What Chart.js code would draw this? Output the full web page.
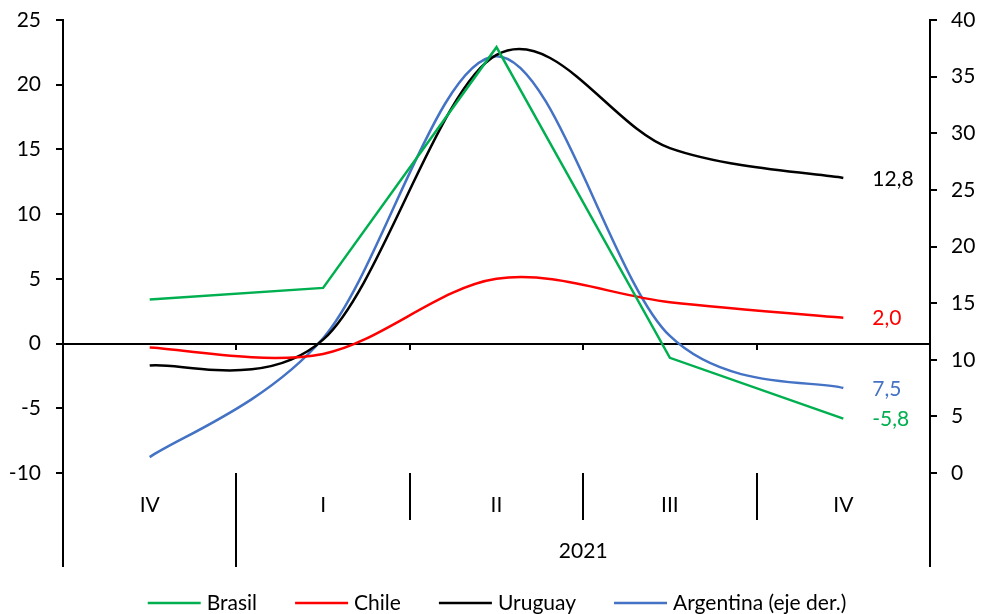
<!DOCTYPE html>
<html lang="es">
<head>
<meta charset="utf-8">
<title>Crecimiento trimestral</title>
<script src="https://cdn.jsdelivr.net/npm/chart.js@4.4.1/dist/chart.umd.min.js"></script>
<style>
  html, body { margin: 0; padding: 0; background: #fff; }
  #wrap { width: 981px; height: 614px; }
</style>
</head>
<body>
<div id="wrap"><canvas id="grafico" width="981" height="614"></canvas></div>
<script>
// Trimestres: IV de 2020 y luego los de 2021
const trimestres = ['IV', 'I', 'II', 'III', 'IV'];
const anio = '2021';

// Series del eje izquierdo
const brasil = [3.4, 4.3, 22.9, -1.1, -5.8];
const chile = [-0.3, -0.8, 5.0, 3.2, 2.0];
const uruguay = [-1.7, 0.3, 22.3, 15.1, 12.8];
// Argentina va en el eje derecho
const argentina = [1.4, 11.9, 36.8, 12.1, 7.5];

// Rango de los ejes
const ejeIzq = { min: -10, max: 25, paso: 5 };
const ejeDer = { min: 0, max: 40, paso: 5 };

const fuente = 'Lato, "Open Sans", sans-serif';
const tamFuente = 21;
const negro = '#000000';

const series = [
    { nombre: 'Brasil', datos: brasil, color: '#00B050', eje: 'y', suave: false },
    { nombre: 'Chile', datos: chile, color: '#FF0000', eje: 'y', suave: true },
    { nombre: 'Uruguay', datos: uruguay, color: '#000000', eje: 'y', suave: true },
    { nombre: 'Argentina (eje der.)', datos: argentina, color: '#4472C4', eje: 'y1', suave: true }
];

// formato con coma decimal
function conComa(v) {
    return v.toFixed(1).replace('.', ',');
}

// Suavizado tipo Excel: puntos de control a 1/6 de (siguiente - anterior)
const suavizado = {
    id: 'suavizado',
    beforeDatasetDraw(chart, args) {
        const meta = args.meta;
        if (!series[args.index].suave) return;
        meta.dataset.updateControlPoints(chart.chartArea, meta.iAxis);
        const pts = meta.data;
        pts.forEach((p, i) => {
            const ant = pts[Math.max(i - 1, 0)];
            const sig = pts[Math.min(i + 1, pts.length - 1)];
            const dx = (sig.x - ant.x) / 6;
            const dy = (sig.y - ant.y) / 6;
            p.cp1x = p.x - dx;
            p.cp1y = p.y - dy;
            p.cp2x = p.x + dx;
            p.cp2y = p.y + dy;
        });
        meta.dataset._path = undefined;
    }
};

// Línea del cero, separadores de trimestres, etiquetas finales y leyenda
const extras = {
    id: 'extras',
    beforeDatasetsDraw(chart) {
        const { ctx, chartArea, scales: { x, y } } = chart;
        const y0 = Math.round(y.getPixelForValue(0));
        ctx.save();
        ctx.strokeStyle = negro;
        ctx.lineWidth = 2;
        ctx.beginPath();
        ctx.moveTo(chartArea.left, y0);
        ctx.lineTo(chartArea.right, y0);
        for (let i = 0; i < trimestres.length - 1; i++) {
            const xm = Math.round((x.getPixelForValue(i) + x.getPixelForValue(i + 1)) / 2);
            ctx.moveTo(xm, y0);
            ctx.lineTo(xm, y0 + 6);
        }
        ctx.stroke();
        ctx.restore();
    },
    afterDraw(chart) {
        const { ctx, chartArea, scales: { x } } = chart;
        const abajo = chartArea.bottom;
        ctx.save();
        ctx.strokeStyle = negro;
        ctx.lineWidth = 2;
        ctx.beginPath();
        // ejes verticales prolongados hacia abajo
        ctx.moveTo(Math.round(chartArea.left), abajo);
        ctx.lineTo(Math.round(chartArea.left), 567);
        ctx.moveTo(Math.round(chartArea.right), abajo);
        ctx.lineTo(Math.round(chartArea.right), 567);
        for (let i = 0; i < trimestres.length - 1; i++) {
            const xm = Math.round((x.getPixelForValue(i) + x.getPixelForValue(i + 1)) / 2);
            ctx.moveTo(xm, abajo);
            ctx.lineTo(xm, i === 0 ? 567 : 520);
        }
        ctx.stroke();

        // año debajo de los trimestres de 2021
        ctx.font = tamFuente + 'px ' + fuente;
        ctx.fillStyle = negro;
        ctx.textAlign = 'center';
        ctx.textBaseline = 'middle';
        const xIni = (x.getPixelForValue(0) + x.getPixelForValue(1)) / 2;
        ctx.fillText(anio, (xIni + chartArea.right) / 2, 551);

        // último valor de cada serie
        ctx.textAlign = 'left';
        series.forEach((s, i) => {
            const meta = chart.getDatasetMeta(i);
            const pt = meta.data[meta.data.length - 1];
            ctx.fillStyle = s.color;
            ctx.fillText(conComa(s.datos[s.datos.length - 1]), pt.x + 29, pt.y + 1);
        });

        // leyenda
        const largo = 53, hueco = 6, sep = 38;
        const anchos = series.map(s => ctx.measureText(s.nombre).width);
        const total = anchos.reduce((a, b) => a + b, 0) + series.length * (largo + hueco) + sep * (series.length - 1);
        let cx = 497 - total / 2;
        const ly = 603;
        series.forEach((s, i) => {
            ctx.strokeStyle = s.color;
            ctx.lineWidth = 2.5;
            ctx.beginPath();
            ctx.moveTo(cx, ly);
            ctx.lineTo(cx + largo, ly);
            ctx.stroke();
            ctx.fillStyle = negro;
            ctx.fillText(s.nombre, cx + largo + hueco, ly);
            cx += largo + hueco + anchos[i] + sep;
        });
        ctx.restore();
    }
};

// quita el margen extra que Chart.js deja arriba por las etiquetas
function ajustarEjeY(ancho) {
    return function (scale) {
        scale.width = ancho;
        scale.paddingTop = 8;
        scale.paddingBottom = 0;
    };
}

const ctx = document.getElementById('grafico').getContext('2d');
new Chart(ctx, {
    type: 'line',
    data: {
        labels: trimestres,
        datasets: series.map(s => ({
            label: s.nombre,
            data: s.datos,
            yAxisID: s.eje,
            borderColor: s.color,
            backgroundColor: s.color,
            borderWidth: 2.5,
            tension: s.suave ? 0.4 : 0,
            fill: false,
            pointRadius: 0,
            pointHoverRadius: 0
        }))
    },
    options: {
        responsive: false,
        animation: false,
        layout: { padding: { top: 20, left: 0, right: 0, bottom: 0 } },
        plugins: {
            legend: { display: false },
            tooltip: { enabled: false }
        },
        scales: {
            x: {
                offset: true,
                grid: { display: false },
                border: { display: false },
                ticks: { color: negro, font: { family: fuente, size: tamFuente }, padding: 12, maxRotation: 0 },
                afterFit(scale) { scale.height = 141; }
            },
            y: {
                position: 'left',
                min: ejeIzq.min,
                max: ejeIzq.max,
                border: { display: true, color: negro, width: 2 },
                grid: { drawOnChartArea: false, drawTicks: true, tickLength: 7, color: negro, lineWidth: 2 },
                ticks: {
                    stepSize: ejeIzq.paso,
                    color: negro,
                    padding: 15,
                    font: { family: fuente, size: tamFuente },
                    callback: v => String(v)
                },
                afterFit: ajustarEjeY(63)
            },
            y1: {
                position: 'right',
                min: ejeDer.min,
                max: ejeDer.max,
                border: { display: true, color: negro, width: 2 },
                grid: { drawOnChartArea: false, drawTicks: true, tickLength: 7, color: negro, lineWidth: 2 },
                ticks: {
                    stepSize: ejeDer.paso,
                    color: negro,
                    padding: 14,
                    font: { family: fuente, size: tamFuente },
                    callback: v => String(v)
                },
                afterFit: ajustarEjeY(51)
            }
        }
    },
    plugins: [suavizado, extras]
});
</script>
</body>
</html>
